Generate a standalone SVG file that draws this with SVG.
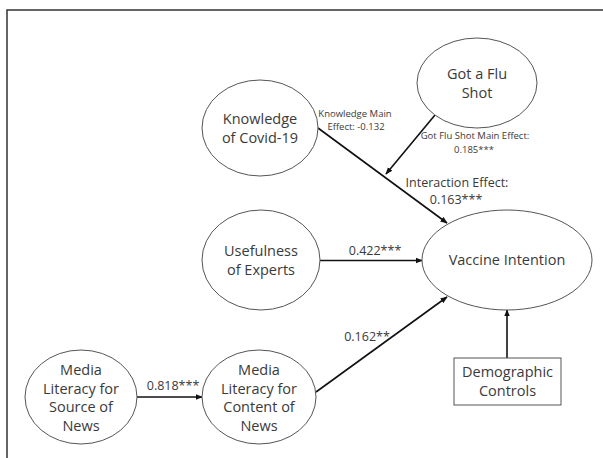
<svg xmlns="http://www.w3.org/2000/svg" width="603" height="458" viewBox="0 0 603 458">
<style>
.node{fill:#fff;stroke:#555;stroke-width:1}
.t{font-family:"Open Sans","Noto Sans",sans-serif;font-size:14.5px;fill:#3a3a3a;text-anchor:middle}
.s{font-family:"Open Sans","Noto Sans",sans-serif;font-size:9.5px;fill:#3a3a3a;text-anchor:middle}
.m{font-family:"Open Sans","Noto Sans",sans-serif;font-size:12.5px;fill:#3a3a3a;text-anchor:middle}
.c{stroke:#111;stroke-width:1.6;fill:none;marker-end:url(#ah)}
</style>
<defs>
<marker id="ah" viewBox="0 0 10 10" refX="9" refY="5" markerWidth="4.5" markerHeight="4.5" orient="auto" markerUnits="strokeWidth">
<path d="M0,1 L10,5 L0,9 z" fill="#111"/>
</marker>
</defs>
<rect width="603" height="458" fill="#fff"/>
<path d="M7,458 V10 H603" fill="none" stroke="#333" stroke-width="1.5"/>
<g id="connectors">
<line class="c" x1="318" y1="128" x2="447" y2="223"/>
<line class="c" x1="435" y1="115" x2="386" y2="174"/>
<line class="c" x1="320" y1="260.5" x2="422" y2="260.5"/>
<line class="c" x1="137" y1="397" x2="202" y2="397"/>
<line class="c" x1="316" y1="392" x2="447" y2="297"/>
<line class="c" x1="507" y1="358" x2="507" y2="310"/>
<text class="s" x="355" y="117">Knowledge Main</text>
<text class="s" x="356" y="130">Effect: -0.132</text>
<text class="s" x="475" y="139">Got Flu Shot Main Effect:</text>
<text class="s" x="474" y="153">0.185***</text>
<text class="m" x="457" y="187">Interaction Effect:</text>
<text class="m" x="456" y="204">0.163***</text>
<text class="m" x="375" y="255">0.422***</text>
<text class="m" x="173" y="390">0.818***</text>
<text class="m" x="367" y="341">0.162**</text>
</g>
<g id="knowledge"><ellipse class="node" cx="260" cy="128" rx="58" ry="48"/><text class="t" x="260" y="124">Knowledge</text><text class="t" x="260" y="143">of Covid-19</text></g>
<g id="flushot"><ellipse class="node" cx="477" cy="83" rx="60" ry="45"/><text class="t" x="477" y="79">Got a Flu</text><text class="t" x="477" y="98">Shot</text></g>
<g id="usefulness"><ellipse class="node" cx="261" cy="260" rx="59" ry="50"/><text class="t" x="261" y="256">Usefulness</text><text class="t" x="261" y="275">of Experts</text></g>
<g id="vaccine"><ellipse class="node" cx="507" cy="260" rx="85" ry="50"/><text class="t" x="507" y="265">Vaccine Intention</text></g>
<g id="source"><ellipse class="node" cx="81" cy="397" rx="56" ry="47"/><text class="t" x="81" y="375">Media</text><text class="t" x="81" y="393.5">Literacy for</text><text class="t" x="81" y="412">Source of</text><text class="t" x="81" y="430.5">News</text></g>
<g id="content"><ellipse class="node" cx="259" cy="397" rx="57" ry="47"/><text class="t" x="259" y="375">Media</text><text class="t" x="259" y="393.5">Literacy for</text><text class="t" x="259" y="412">Content of</text><text class="t" x="259" y="430.5">News</text></g>
<g id="demographic"><rect class="node" x="454" y="358" width="107" height="47"/><text class="t" x="507.5" y="377">Demographic</text><text class="t" x="507.5" y="396">Controls</text></g>
</svg>
